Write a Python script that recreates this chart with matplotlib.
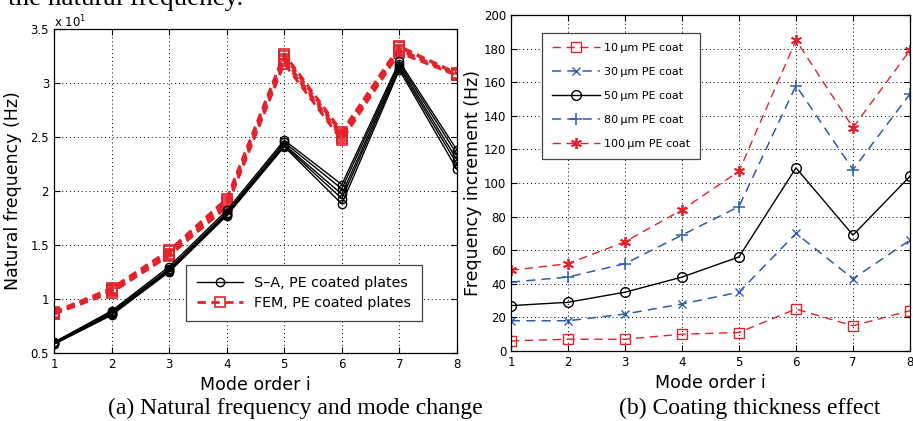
import matplotlib
matplotlib.use("Agg")
import matplotlib.pyplot as plt
import numpy as np

modes = [1, 2, 3, 4, 5, 6, 7, 8]

# Left panel (values in units of 10 Hz, i.e. "x 10^1")
sa_lines = [
    [0.58, 0.85, 1.25, 1.77, 2.41, 1.88, 3.12, 2.20],
    [0.585, 0.86, 1.26, 1.78, 2.42, 1.93, 3.14, 2.25],
    [0.59, 0.87, 1.27, 1.79, 2.43, 1.97, 3.16, 2.29],
    [0.595, 0.88, 1.28, 1.80, 2.45, 2.02, 3.18, 2.34],
    [0.60, 0.89, 1.30, 1.82, 2.47, 2.06, 3.20, 2.38],
]
fem_lines = [
    [0.86, 1.06, 1.40, 1.85, 3.18, 2.47, 3.28, 3.07],
    [0.865, 1.07, 1.41, 1.87, 3.20, 2.49, 3.30, 3.075],
    [0.87, 1.08, 1.42, 1.89, 3.22, 2.51, 3.31, 3.08],
    [0.875, 1.09, 1.44, 1.91, 3.25, 2.53, 3.33, 3.085],
    [0.88, 1.10, 1.45, 1.93, 3.27, 2.55, 3.34, 3.09],
]

# Right panel
coat_labels = ["10\u2009\u03bcm PE coat", "30\u2009\u03bcm PE coat", "50\u2009\u03bcm PE coat",
               "80\u2009\u03bcm PE coat", "100\u2009\u03bcm PE coat"]
inc_10 = [6, 7, 7, 10, 11, 25, 15, 24]
inc_30 = [18, 18, 22, 28, 35, 70, 43, 66]
inc_50 = [27, 29, 35, 44, 56, 109, 69, 104]
inc_80 = [41, 44, 52, 69, 86, 158, 108, 153]
inc_100 = [48, 52, 65, 84, 107, 185, 133, 179]

plt.rcParams['font.family'] = ['DejaVu Sans']

RED = '#e3222b'
BLUE = '#2b5cb2'

fig = plt.figure(figsize=(9.13, 4.21), dpi=100)
fig.patch.set_facecolor('white')

def style_axes(ax):
    ax.grid(True, linestyle=(0, (1, 3)), color='black', linewidth=0.7)
    ax.tick_params(direction='in', top=True, right=True, labelsize=8.5, length=4, width=0.8)
    for s in ax.spines.values():
        s.set_linewidth(0.9)

# Left
ax1 = fig.add_axes([0.0591, 0.1615, 0.4414, 0.7696])
for i, l in enumerate(fem_lines):
    ax1.plot(modes, l, color=RED, linestyle=(0, (3, 2)), linewidth=2.0,
             marker='s', markersize=7, markerfacecolor='none', markeredgewidth=1.2,
             label='FEM, PE coated plates' if i == 0 else None, zorder=2)
for i, l in enumerate(sa_lines):
    ax1.plot(modes, l, color='black', linestyle='-', linewidth=1.0,
             marker='o', markersize=6, markerfacecolor='none', markeredgewidth=1.0,
             label='S\u2013A, PE coated plates' if i == 0 else None, zorder=3)
ax1.set_xlim(1, 8)
ax1.set_ylim(0.5, 3.5)
ax1.set_xticks(modes)
ax1.set_yticks([0.5, 1, 1.5, 2, 2.5, 3, 3.5])
ax1.set_yticklabels(['0.5', '1', '1.5', '2', '2.5', '3', '3.5'])
style_axes(ax1)
ax1.set_xlabel('Mode order i', fontsize=12.5, labelpad=4)
ax1.set_ylabel('Natural frequency (Hz)', fontsize=12.5, labelpad=6)
ax1.text(0.0, 1.022, r'x 10$^{1}$', transform=ax1.transAxes, fontsize=8.5, ha='left', va='center')
h, lb = ax1.get_legend_handles_labels()
leg1 = ax1.legend(h[::-1], lb[::-1], loc='lower left', bbox_to_anchor=(0.328, 0.10),
                  borderaxespad=0,
                  fontsize=10.3, fancybox=False, edgecolor='#444444', framealpha=1,
                  handlelength=3.2, borderpad=0.75, labelspacing=0.4)
leg1.get_frame().set_linewidth(0.9)

# Right
ax2 = fig.add_axes([0.5597, 0.1663, 0.437, 0.798])
ax2.plot(modes, inc_10, color=RED, linestyle=(0, (6, 4)), linewidth=1.0,
         marker='s', markersize=7, markerfacecolor='none', markeredgewidth=1.0, label=coat_labels[0])
ax2.plot(modes, inc_30, color=BLUE, linestyle=(0, (6, 4)), linewidth=1.1,
         marker='x', markersize=6, markeredgewidth=1.0, label=coat_labels[1])
ax2.plot(modes, inc_50, color='black', linestyle='-', linewidth=1.0,
         marker='o', markersize=7, markerfacecolor='none', markeredgewidth=1.0, label=coat_labels[2])
ax2.plot(modes, inc_80, color=BLUE, linestyle=(0, (6, 4)), linewidth=1.1,
         marker='+', markersize=8, markeredgewidth=1.1, label=coat_labels[3])
ax2.plot(modes, inc_100, color=RED, linestyle=(0, (6, 4)), linewidth=1.0,
         marker=(6, 2, 0), markersize=8, markeredgewidth=1.3, label=coat_labels[4])
ax2.set_xlim(1, 8)
ax2.set_ylim(0, 200)
ax2.set_xticks(modes)
ax2.set_yticks(np.arange(0, 201, 20))
style_axes(ax2)
ax2.set_xlabel('Mode order i', fontsize=12.5, labelpad=4)
ax2.set_ylabel('Frequency increment (Hz)', fontsize=12.5)
ax2.yaxis.set_label_coords(-0.072, 0.5)
leg2 = ax2.legend(loc='upper left', bbox_to_anchor=(0.078, 0.946), borderaxespad=0,
                  fontsize=8,
                  fancybox=False, edgecolor='#444444', framealpha=1,
                  handlelength=4.3, handletextpad=0.4, borderpad=0.9, labelspacing=1.25)
leg2.get_frame().set_linewidth(0.9)

# Captions
fig.text(295 / 913, 1 - 408 / 421, '(a) Natural frequency and mode change',
         fontsize=17, family='Liberation Serif', ha='center', va='center')
fig.text(750 / 913, 1 - 408 / 421, '(b) Coating thickness effect',
         fontsize=17, family='Liberation Serif', ha='center', va='center')
fig.text(8 / 913, 1 - 5 / 421, 'the natural frequency.', fontsize=19.5,
         family='Liberation Serif', ha='left', va='baseline')

fig.savefig('out.png', dpi=100)
